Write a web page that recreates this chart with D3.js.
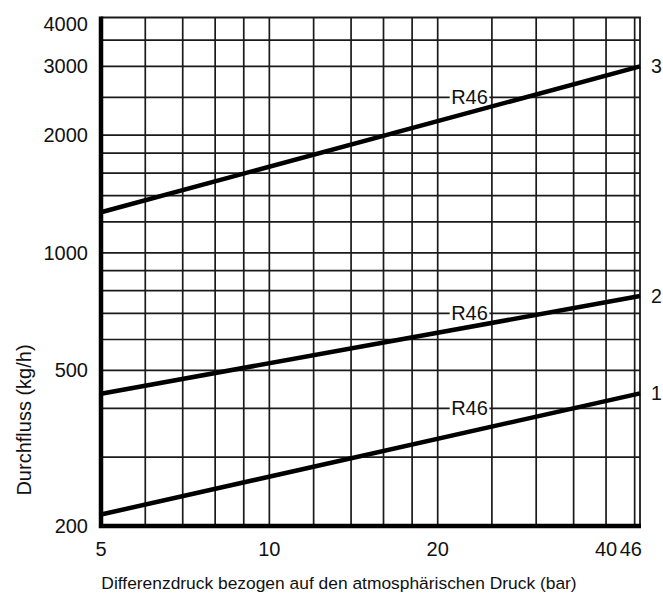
<!DOCTYPE html>
<html>
<head>
<meta charset="utf-8">
<script src="https://cdn.jsdelivr.net/npm/d3@7/dist/d3.min.js"></script>
<style>
  html, body { margin: 0; padding: 0; background: #fff; }
  svg { display: block; }
  text { font-family: "Liberation Sans", Arial, Helvetica, sans-serif; fill: #111; }
</style>
</head>
<body>
<svg id="chart" width="663" height="596"></svg>
<script>
// ---- data ----
const xDomain = [5, 46];
const yDomain = [200, 4000];
const xGridValues = [6, 7, 8, 9, 10, 12, 14, 16, 18, 20, 25, 30, 35, 40, 45];
const yGridValues = [300, 400, 500, 600, 700, 800, 900, 1000, 1200, 1400, 1600, 1800, 2000, 2500, 3000, 3500];
const xTickLabels = [5, 10, 20, 40, 46];
const yTickLabels = [200, 500, 1000, 2000, 3000, 4000];
const pressure = [5, 46];
const flow1 = [214, 437];
const flow2 = [436, 775];
const flow3 = [1270, 3000];
const seriesNames = ["1", "2", "3"];
const valveLabel = "R46";
const valveLabelX = 22.8;
const valveLabelFlow = [400, 700, 2500];
const xTitle = "Differenzdruck bezogen auf den atmosphärischen Druck (bar)";
const yTitle = "Durchfluss (kg/h)";

(function () {
// ---- layout ----
const pL = 101, pR = 640, pT = 17.5, pB = 526;
const svg = d3.select("#chart");
svg.append("rect").attr("width", 663).attr("height", 596).attr("fill", "#fff");

const x = d3.scaleLog().domain(xDomain).range([pL, pR]);
const y = d3.scaleLog().domain(yDomain).range([pB, pT]);

const grid = svg.append("g").attr("stroke", "#1a1a1a").attr("stroke-width", 1.7);
grid.selectAll("line.v").data(xGridValues).join("line")
  .attr("class", "v")
  .attr("x1", d => x(d)).attr("x2", d => x(d))
  .attr("y1", pT).attr("y2", pB);
grid.selectAll("line.h").data(yGridValues).join("line")
  .attr("class", "h")
  .attr("x1", pL).attr("x2", pR)
  .attr("y1", d => y(d)).attr("y2", d => y(d));

// thin top / right border
svg.append("path")
  .attr("d", `M${pL},${pT}H${pR}V${pB}`)
  .attr("fill", "none").attr("stroke", "#1a1a1a").attr("stroke-width", 1.8);
// thick left / bottom axes
svg.append("path")
  .attr("d", `M${pL},${pT - 1}V${pB}H${pR + 1}`)
  .attr("fill", "none").attr("stroke", "#000").attr("stroke-width", 4.5);

// curves
const series = [flow1, flow2, flow3];
const line = d3.line().x(d => x(d[0])).y(d => y(d[1]));
svg.selectAll("path.curve").data(series).join("path")
  .attr("class", "curve")
  .attr("d", s => line(pressure.map((p, i) => [p, s[i]])))
  .attr("fill", "none").attr("stroke", "#000").attr("stroke-width", 4.5)
  .attr("stroke-linecap", "butt");

// series number labels
svg.selectAll("text.sname").data(series).join("text")
  .attr("class", "sname")
  .attr("x", x(pressure[1]) + 11)
  .attr("y", s => y(s[1]))
  .attr("dy", "0.35em")
  .attr("font-size", 19.5)
  .text((s, i) => seriesNames[i]);

// R46 labels on gridlines with white background
valveLabelFlow.forEach(v => {
  const g = svg.append("g");
  const t = g.append("text")
    .attr("x", x(valveLabelX)).attr("y", y(v))
    .attr("dy", "0.35em").attr("text-anchor", "middle")
    .attr("font-size", 20).text(valveLabel);
  const b = t.node().getBBox();
  g.insert("rect", "text")
    .attr("x", b.x - 1.5).attr("y", y(v) - 4)
    .attr("width", b.width + 3).attr("height", 8)
    .attr("fill", "#fff");
});

// y tick labels
svg.selectAll("text.ytick").data(yTickLabels).join("text")
  .attr("class", "ytick")
  .attr("x", pL - 13)
  .attr("y", d => Math.max(y(d), pT + 6))
  .attr("dy", "0.35em").attr("text-anchor", "end")
  .attr("font-size", 20).text(d => d);

// x tick labels
svg.selectAll("text.xtick").data(xTickLabels).join("text")
  .attr("class", "xtick")
  .attr("x", (d, i) => i === xTickLabels.length - 1 ? x(d) + 2 : x(d))
  .attr("y", 556)
  .attr("text-anchor", (d, i) => i === xTickLabels.length - 1 ? "end" : "middle")
  .attr("font-size", 20).text(d => d);

// axis titles
svg.append("text")
  .attr("x", 339).attr("y", 589)
  .attr("text-anchor", "middle").attr("font-size", 17.4)
  .text(xTitle);
svg.append("text")
  .attr("transform", "translate(31,420) rotate(-90)")
  .attr("text-anchor", "middle").attr("font-size", 20)
  .text(yTitle);
})();
</script>
</body>
</html>
